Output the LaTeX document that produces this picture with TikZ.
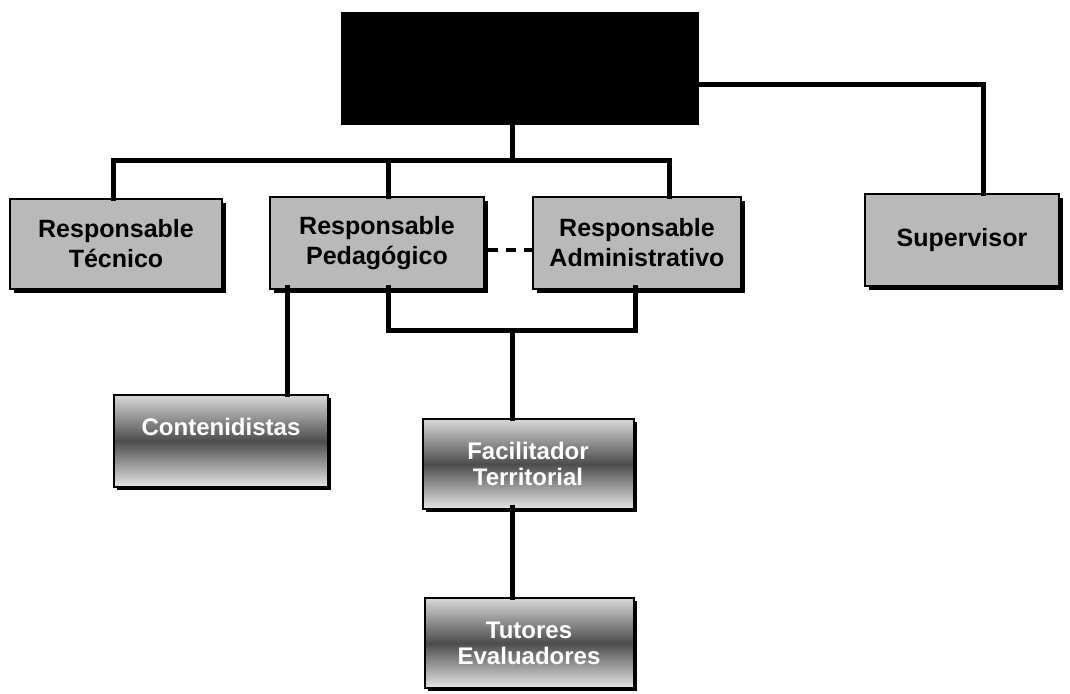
\documentclass[tikz,border=0pt]{standalone}
\usepackage{fontspec}
\setmainfont{Liberation Sans}
\usetikzlibrary{shadows}
\begin{document}
\begin{tikzpicture}[x=1pt,y=-1pt,
  conn/.style={line width=5pt, line cap=rect, line join=miter},
  dashconn/.style={line width=3.5pt, dash pattern=on 10pt off 8pt},
  topbox/.style={draw=black, fill=black, line width=1pt, minimum width=357pt, minimum height=111pt},
  upbox/.style={draw=black, line width=2pt, fill=gray!55, align=center, inner sep=2pt,
    font=\fontsize{25}{30}\selectfont\bfseries,
    drop shadow={shadow xshift=3.5pt, shadow yshift=-3.5pt, fill=black, opacity=1}},
  lowbox/.style={draw=black, line width=2pt, top color=gray!30, bottom color=gray!20, middle color=black!70,
    text=white, align=center, inner sep=2pt, font=\fontsize{24}{26}\selectfont\bfseries,
    drop shadow={shadow xshift=3pt, shadow yshift=-3pt, fill=black, opacity=1}}]
\useasboundingbox[fill=white] (0,0) rectangle (1070,693);

\node[topbox] (top) at (519.5,68.5) {};

\node[upbox, minimum width=212pt, minimum height=90pt] (tec) at (116,244) {Responsable\\Técnico};
\node[upbox, minimum width=214pt, minimum height=92pt] (ped) at (377,243) {Responsable\\Pedagógico};
\node[upbox, minimum width=208pt, minimum height=92pt] (adm) at (637,243) {Responsable\\Administrativo};
\node[upbox, minimum width=194pt, minimum height=92pt] (sup) at (962,240) {Supervisor};

\node[lowbox, minimum width=214pt, minimum height=92pt, text depth=0pt] (cont) at (221,441) {\raisebox{28pt}{Contenidistas}};
\node[lowbox, minimum width=211pt, minimum height=90pt] (fac) at (528,464) {Facilitador\\Territorial};
\node[lowbox, minimum width=209pt, minimum height=90pt] (tut) at (529,643) {Tutores\\Evaluadores};

% upper bus
\coordinate (b1) at (113,160);
\coordinate (b2) at (388,160);
\coordinate (b3) at (669,160);
\coordinate (bm) at (512,160);
\draw[conn] (bm |- top.south) -- (bm);
\draw[conn] (b1 |- tec.north) -- (b1) -- (b3) -- (b3 |- adm.north);
\draw[conn] (b2) -- (b2 |- ped.north);

% supervisor link
\coordinate (r1) at (983,84);
\draw[conn] (top.east |- r1) -- (r1) -- (r1 |- sup.north);

% dashed link
\coordinate (d) at (0,250);
\draw[dashconn] ([xshift=3pt]ped.east |- d) -- (adm.west |- d);

% lower bus
\coordinate (l1) at (388,330);
\coordinate (l2) at (635,330);
\coordinate (lm) at (512,330);
\draw[conn] ([yshift=3pt]l1 |- ped.south) -- (l1) -- (l2) -- ([yshift=3pt]l2 |- adm.south);
\draw[conn] (lm) -- (lm |- fac.north);

% contenidistas link
\coordinate (c1) at (287,0);
\draw[conn] ([yshift=3pt]c1 |- ped.south) -- (c1 |- cont.north);

% facilitador to tutores
\draw[conn] ([yshift=3pt]lm |- fac.south) -- (lm |- tut.north);
\end{tikzpicture}
\end{document}
